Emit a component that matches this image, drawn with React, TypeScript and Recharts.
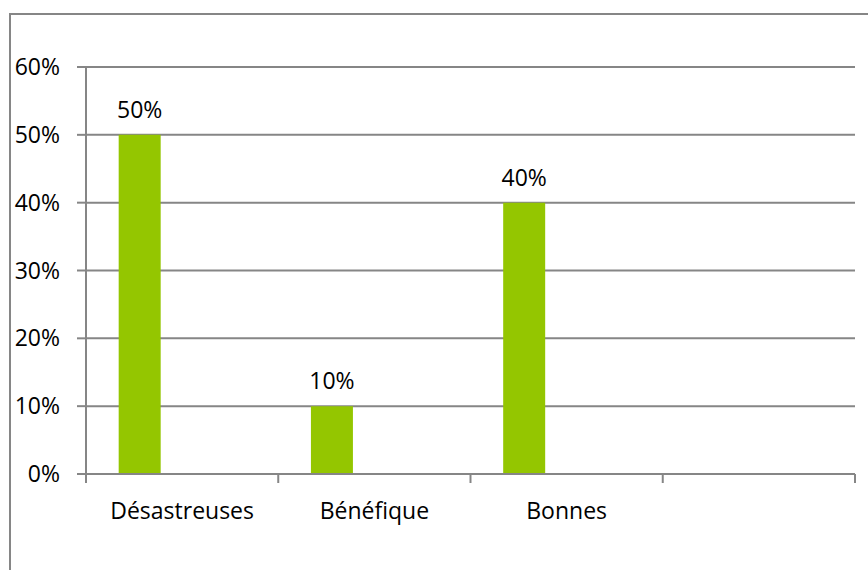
import React from "react";
import { Bar, BarChart, CartesianGrid, LabelList, XAxis, YAxis } from "recharts";

const categories = ["Désastreuses", "Bénéfique", "Bonnes", ""];
const serie1 = [0.5, 0.1, 0.4, null];
const serie2 = [null, null, null, null];
const serie3 = [null, null, null, null];
const yTicks = [0, 0.1, 0.2, 0.3, 0.4, 0.5, 0.6];

const GRID = "#868686";
const GREEN = "#94c600";
const FONT = "'Open Sans', sans-serif";

const rows = categories.map((name, i) => ({
  name,
  s1: serie1[i],
  s2: serie2[i],
  s3: serie3[i],
}));

const pct = (v: any) => (v == null ? "" : `${Math.round(v * 100)}%`);

// Excel-style category axis: tick marks sit between categories, labels in the middle
function CategoryTick(props: any) {
  const { x, y, payload, index, visibleTicksCount, width } = props;
  const half = width / visibleTicksCount / 2;
  const last = index === visibleTicksCount - 1;
  return (
    <g>
      <line x1={x - half} x2={x - half} y1={y} y2={y + 9} stroke={GRID} strokeWidth={2} />
      {last && <line x1={x + half} x2={x + half} y1={y} y2={y + 9} stroke={GRID} strokeWidth={2} />}
      <text
        x={x}
        y={y + 36}
        textAnchor="middle"
        dominantBaseline="central"
        fontFamily={FONT}
        fontSize={23}
        fill="#000"
      >
        {payload.value}
      </text>
    </g>
  );
}

export default function App() {
  return (
    <div style={{ position: "relative", width: 868, height: 570, overflow: "hidden", background: "#fff" }}>
      <style>{"body{margin:0;overflow:hidden}"}</style>
      <div
        style={{
          position: "absolute",
          left: 9,
          top: 13,
          width: 900,
          height: 600,
          border: `2px solid ${GRID}`,
        }}
      />
      <div style={{ position: "absolute", left: 0, top: 0 }}>
        <BarChart
          width={868}
          height={570}
          data={rows}
          margin={{ top: 67, right: 13, bottom: 0, left: 0 }}
          barCategoryGap="17%"
          barGap={0}
        >
          <CartesianGrid vertical={false} stroke={GRID} strokeWidth={2} />
          <XAxis
            dataKey="name"
            height={96}
            axisLine={{ stroke: GRID, strokeWidth: 2 }}
            tickLine={false}
            tickSize={0}
            tickMargin={0}
            interval={0}
            tick={<CategoryTick />}
          />
          <YAxis
            width={86}
            domain={[0, 0.6]}
            ticks={yTicks}
            tickFormatter={pct}
            axisLine={{ stroke: GRID, strokeWidth: 2 }}
            tickLine={{ stroke: GRID, strokeWidth: 2 }}
            tickSize={9}
            tickMargin={17}
            tick={{ fill: "#000", fontSize: 23, fontFamily: FONT }}
          />
          <Bar dataKey="s1" fill={GREEN} isAnimationActive={false}>
            <LabelList
              dataKey="s1"
              position="top"
              offset={17}
              formatter={pct}
              fill="#000"
              fontSize={23}
              fontFamily={FONT}
            />
          </Bar>
          <Bar dataKey="s2" fill={GREEN} isAnimationActive={false} />
          <Bar dataKey="s3" fill={GREEN} isAnimationActive={false} />
        </BarChart>
      </div>
    </div>
  );
}
